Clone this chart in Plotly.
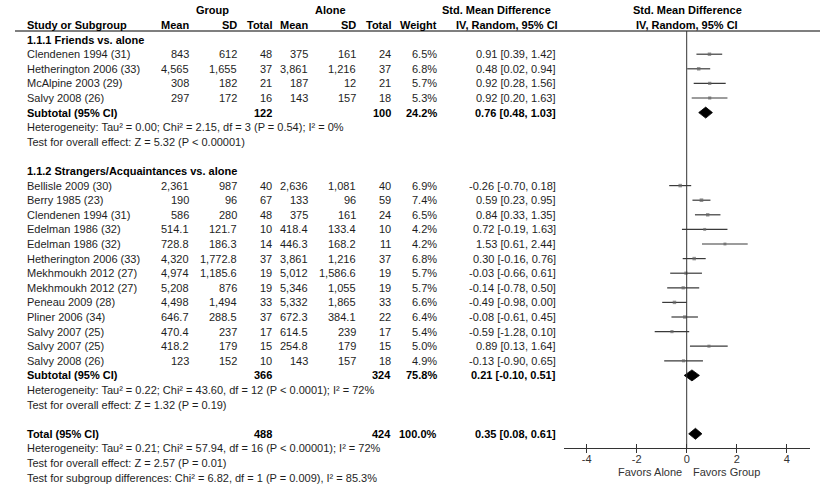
import plotly.graph_objects as go

# ---------------- data ----------------
friends_study = ["Clendenen 1994 (31)", "Hetherington 2006 (33)", "McAlpine 2003 (29)", "Salvy 2008 (26)"]
friends_g_mean = [843, 4565, 308, 297]
friends_g_sd = [612, 1655, 182, 172]
friends_g_n = [48, 37, 21, 16]
friends_a_mean = [375, 3861, 187, 143]
friends_a_sd = [161, 1216, 12, 157]
friends_a_n = [24, 37, 21, 18]
friends_weight = [6.5, 6.8, 5.7, 5.3]
friends_smd = [0.91, 0.48, 0.92, 0.92]
friends_lo = [0.39, 0.02, 0.28, 0.20]
friends_hi = [1.42, 0.94, 1.56, 1.63]
friends_sub = dict(g_n=122, a_n=100, weight=24.2, smd=0.76, lo=0.48, hi=1.03)
friends_het = "Heterogeneity: Tau² = 0.00; Chi² = 2.15, df = 3 (P = 0.54); I² = 0%"
friends_test = "Test for overall effect: Z = 5.32 (P < 0.00001)"

str_study = ["Bellisle 2009 (30)", "Berry 1985 (23)", "Clendenen 1994 (31)", "Edelman 1986 (32)",
             "Edelman 1986 (32)", "Hetherington 2006 (33)", "Mekhmoukh 2012 (27)", "Mekhmoukh 2012 (27)",
             "Peneau 2009 (28)", "Pliner 2006 (34)", "Salvy 2007 (25)", "Salvy 2007 (25)", "Salvy 2008 (26)"]
str_g_mean = [2361, 190, 586, 514.1, 728.8, 4320, 4974, 5208, 4498, 646.7, 470.4, 418.2, 123]
str_g_sd = [987, 96, 280, 121.7, 186.3, 1772.8, 1185.6, 876, 1494, 288.5, 237, 179, 152]
str_g_n = [40, 67, 48, 10, 14, 37, 19, 19, 33, 37, 17, 15, 10]
str_a_mean = [2636, 133, 375, 418.4, 446.3, 3861, 5012, 5346, 5332, 672.3, 614.5, 254.8, 143]
str_a_sd = [1081, 96, 161, 133.4, 168.2, 1216, 1586.6, 1055, 1865, 384.1, 239, 179, 157]
str_a_n = [40, 59, 24, 10, 11, 37, 19, 19, 33, 22, 17, 15, 18]
str_weight = [6.9, 7.4, 6.5, 4.2, 4.2, 6.8, 5.7, 5.7, 6.6, 6.4, 5.4, 5.0, 4.9]
str_smd = [-0.26, 0.59, 0.84, 0.72, 1.53, 0.30, -0.03, -0.14, -0.49, -0.08, -0.59, 0.89, -0.13]
str_lo = [-0.70, 0.23, 0.33, -0.19, 0.61, -0.16, -0.66, -0.78, -0.98, -0.61, -1.28, 0.13, -0.90]
str_hi = [0.18, 0.95, 1.35, 1.63, 2.44, 0.76, 0.61, 0.50, 0.00, 0.45, 0.10, 1.64, 0.65]
str_sub = dict(g_n=366, a_n=324, weight=75.8, smd=0.21, lo=-0.10, hi=0.51)
str_het = "Heterogeneity: Tau² = 0.22; Chi² = 43.60, df = 12 (P < 0.0001); I² = 72%"
str_test = "Test for overall effect: Z = 1.32 (P = 0.19)"

total = dict(g_n=488, a_n=424, weight=100.0, smd=0.35, lo=0.08, hi=0.61)
total_het = "Heterogeneity: Tau² = 0.21; Chi² = 57.94, df = 16 (P < 0.00001); I² = 72%"
total_test = "Test for overall effect: Z = 2.57 (P = 0.01)"
total_sub = "Test for subgroup differences: Chi² = 6.82, df = 1 (P = 0.009), I² = 85.3%"

tick_vals = [-4, -2, 0, 2, 4]
favors_left = "Favors Alone"
favors_right = "Favors Group"

# ---------------- geometry ----------------
W, H = 828, 497
FONT = "Liberation Sans, Arial, sans-serif"
Y0, DY = 54.2, 14.6
AXIS_Y = 448.3
HEAD_LINE_Y = 31.0
TXT = "#1e1e1e"


def ry(i):
    return Y0 + DY * i


COLS = dict(gm=189.3, gsd=236.7, gn=271.7, am=308.3, asd=356.0, an=390.7, w=436.7, smd=555.5)
NAME_X = 26.5

annotations = []


def txt(x, y, s, anchor="left", bold=False, color=TXT, size=11):
    annotations.append(dict(
        x=x / W, xref="paper", y=y, yref="y", text=("<b>%s</b>" % s) if bold else s,
        xanchor=anchor, yanchor="middle", showarrow=False, borderpad=0, borderwidth=0,
        font=dict(family=FONT, size=size, color="#000" if bold else color)))


def fmt_num(v):
    if isinstance(v, float) and not float(v).is_integer():
        return "{:,.1f}".format(v)
    return "{:,}".format(int(v))


def fmt_ci(e, l, h):
    return "%.2f [%.2f, %.2f]" % (e, l, h)


# header
txt(212, ry(-3), "Group", "center", True)
txt(330.5, ry(-3), "Alone", "center", True)
txt(496, ry(-3), "Std. Mean Difference", "center", True)
txt(687, ry(-3), "Std. Mean Difference", "center", True)
txt(NAME_X, ry(-2), "Study or Subgroup", "left", True)
for key, lab in [("gm", "Mean"), ("gsd", "SD"), ("gn", "Total"), ("am", "Mean"), ("asd", "SD"),
                 ("an", "Total"), ("w", "Weight")]:
    txt(COLS[key], ry(-2), lab, "right", True)
txt(506.5, ry(-2), "IV, Random, 95% CI", "center", True)
txt(686.5, ry(-2), "IV, Random, 95% CI", "center", True)

study_x, study_y, study_lo, study_hi, study_w = [], [], [], [], []
diamonds = []


def add_group(start, title, names, gm, gsd, gn, am, asd, an, wt, smd, lo, hi, sub, het, test):
    txt(NAME_X, ry(start), title, "left", True)
    for k in range(len(names)):
        y = ry(start + 1 + k)
        txt(NAME_X, y, names[k])
        txt(COLS["gm"], y, fmt_num(gm[k]), "right")
        txt(COLS["gsd"], y, fmt_num(gsd[k]), "right")
        txt(COLS["gn"], y, str(gn[k]), "right")
        txt(COLS["am"], y, fmt_num(am[k]), "right")
        txt(COLS["asd"], y, fmt_num(asd[k]), "right")
        txt(COLS["an"], y, str(an[k]), "right")
        txt(COLS["w"], y, "%.1f%%" % wt[k], "right")
        txt(COLS["smd"], y, fmt_ci(smd[k], lo[k], hi[k]), "right")
        study_x.append(smd[k]); study_y.append(y)
        study_lo.append(lo[k]); study_hi.append(hi[k]); study_w.append(wt[k])
    ys = ry(start + 1 + len(names))
    txt(NAME_X, ys, "Subtotal (95% CI)", "left", True)
    txt(COLS["gn"], ys, str(sub["g_n"]), "right", True)
    txt(COLS["an"], ys, str(sub["a_n"]), "right", True)
    txt(COLS["w"], ys, "%.1f%%" % sub["weight"], "right", True)
    txt(COLS["smd"], ys, fmt_ci(sub["smd"], sub["lo"], sub["hi"]), "right", True)
    diamonds.append((sub, ys))
    txt(NAME_X, ry(start + 2 + len(names)), het)
    txt(NAME_X, ry(start + 3 + len(names)), test)
    return start + 5 + len(names)


nxt = add_group(-1, "1.1.1 Friends vs. alone", friends_study, friends_g_mean, friends_g_sd, friends_g_n,
                friends_a_mean, friends_a_sd, friends_a_n, friends_weight, friends_smd, friends_lo,
                friends_hi, friends_sub, friends_het, friends_test)
nxt = add_group(nxt, "1.1.2 Strangers/Acquaintances vs. alone", str_study, str_g_mean, str_g_sd, str_g_n,
                str_a_mean, str_a_sd, str_a_n, str_weight, str_smd, str_lo, str_hi, str_sub, str_het,
                str_test)
yt = ry(nxt)
txt(NAME_X, yt, "Total (95% CI)", "left", True)
txt(COLS["gn"], yt, str(total["g_n"]), "right", True)
txt(COLS["an"], yt, str(total["a_n"]), "right", True)
txt(COLS["w"], yt, "%.1f%%" % total["weight"], "right", True)
txt(COLS["smd"], yt, fmt_ci(total["smd"], total["lo"], total["hi"]), "right", True)
diamonds.append((total, yt))
txt(NAME_X, ry(nxt + 1), total_het)
txt(NAME_X, ry(nxt + 2), total_test)
txt(NAME_X, ry(nxt + 3), total_sub)

txt(681.7, 471.5, favors_left, "right", color="#333")
txt(692.7, 471.5, favors_right, "left", color="#333")

fig = go.Figure()

# study estimates with CIs
fig.add_trace(go.Scatter(
    x=study_x, y=study_y, mode="markers",
    marker=dict(symbol="square", size=[2.0 + 0.22 * w for w in study_w], color="#666",
                line=dict(width=0)),
    error_x=dict(type="data", symmetric=False,
                 array=[h - e for h, e in zip(study_hi, study_x)],
                 arrayminus=[e - l for e, l in zip(study_x, study_lo)],
                 width=0, color="#3a3a3a", thickness=1.2),
    hoverinfo="skip", showlegend=False))

# diamonds
HALF = 5.5
for d, y in diamonds:
    fig.add_trace(go.Scatter(
        x=[d["lo"], d["smd"], d["hi"], d["smd"], d["lo"]],
        y=[y, y - HALF, y, y + HALF, y],
        mode="lines", fill="toself", fillcolor="#000", line=dict(color="#000", width=0.8),
        hoverinfo="skip", showlegend=False))

# dummy trace for the second (outside-tick) axis
fig.add_trace(go.Scatter(x=[None], y=[None], xaxis="x2", yaxis="y", showlegend=False, hoverinfo="skip"))

x_dom = [564 / W, 810 / W]
x_rng = [-4.908, 4.932]
pos = 1 - AXIS_Y / H

fig.update_layout(
    width=W, height=H, margin=dict(l=0, r=0, t=0, b=0),
    paper_bgcolor="white", plot_bgcolor="rgba(0,0,0,0)",
    xaxis=dict(domain=x_dom, range=x_rng, anchor="free", position=pos, showgrid=False, zeroline=False,
               showline=True, linecolor="#333", linewidth=1, ticks="inside", ticklen=4, tickcolor="#333",
               tickvals=tick_vals, ticktext=[str(v) for v in tick_vals],
               tickfont=dict(family=FONT, size=11, color="#333"), fixedrange=True),
    xaxis2=dict(domain=x_dom, range=x_rng, anchor="free", position=pos, overlaying="x", showgrid=False,
                zeroline=False, showline=False, ticks="outside", ticklen=4, tickcolor="#333",
                tickvals=tick_vals, showticklabels=False, fixedrange=True),
    yaxis=dict(domain=[0, 1], range=[H, 0], visible=False, fixedrange=True),
    annotations=annotations,
    shapes=[
        dict(type="line", xref="paper", yref="y", x0=15 / W, x1=820 / W, y0=HEAD_LINE_Y, y1=HEAD_LINE_Y,
             line=dict(color="#555", width=1.5)),
        dict(type="line", xref="x", yref="y", x0=0, x1=0, y0=HEAD_LINE_Y, y1=AXIS_Y,
             line=dict(color="#333", width=1)),
    ],
)

fig.write_html("out.html")
